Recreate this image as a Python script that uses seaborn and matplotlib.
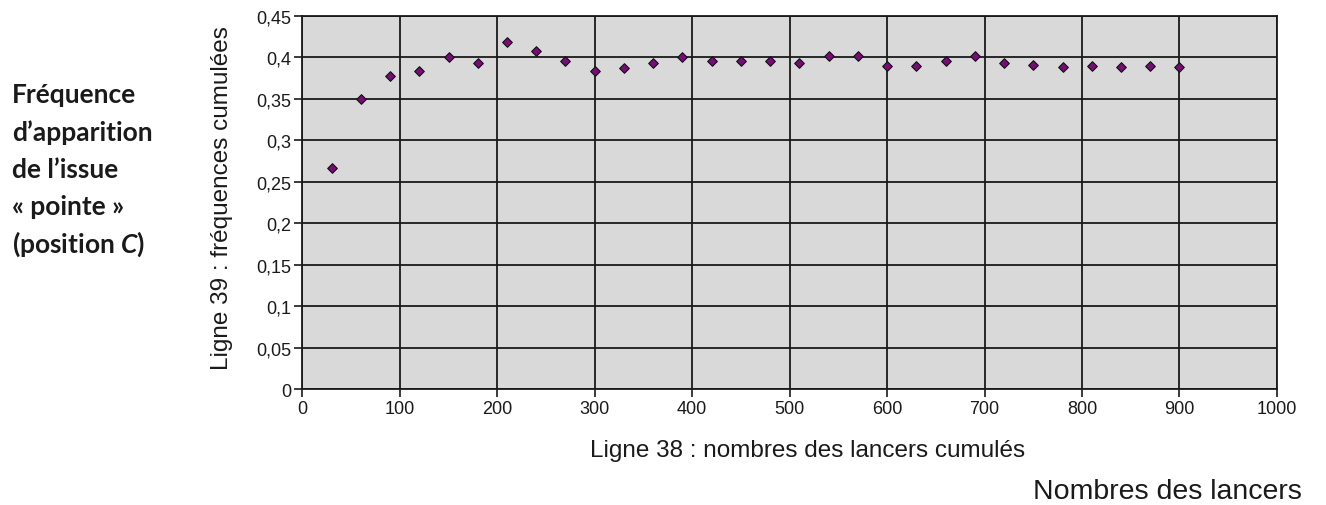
import numpy as np
import pandas as pd
import matplotlib
matplotlib.use('Agg')
import matplotlib.pyplot as plt
import seaborn as sns

# cumulated number of throws and cumulated frequency of the "pointe" outcome
lancers = [30, 60, 90, 120, 150, 180, 210, 240, 270, 300,
           330, 360, 390, 420, 450, 480, 510, 540, 570, 600,
           630, 660, 690, 720, 750, 780, 810, 840, 870, 900]
frequences = [0.267, 0.350, 0.377, 0.383, 0.400, 0.393, 0.418, 0.408, 0.396, 0.383,
              0.387, 0.393, 0.400, 0.395, 0.395, 0.395, 0.393, 0.401, 0.401, 0.389,
              0.389, 0.396, 0.401, 0.393, 0.391, 0.388, 0.389, 0.388, 0.389, 0.388]

x_ticks = list(range(0, 1001, 100))
y_ticks = [0, 0.05, 0.1, 0.15, 0.2, 0.25, 0.3, 0.35, 0.4, 0.45]
y_tick_labels = ['0', '0,05', '0,1', '0,15', '0,2', '0,25', '0,3', '0,35', '0,4', '0,45']

df = pd.DataFrame({'lancers': lancers, 'freq': frequences})

sns.set_style('ticks')
plt.rcParams['font.family'] = ['Liberation Sans', 'DejaVu Sans']
plt.rcParams['mathtext.fontset'] = 'custom'
plt.rcParams['mathtext.it'] = 'Lato:italic:bold'

fig = plt.figure(figsize=(13.26, 5.06), dpi=100)
ax = fig.add_axes([0.228, 0.229, 0.735, 0.738])
ax.set_facecolor('#d9d9d9')

sns.scatterplot(data=df, x='lancers', y='freq', ax=ax, marker='D', s=24,
                color='#7a0a7a', edgecolor='#111111', linewidth=0.8, zorder=3)

ax.set_xlim(0, 1000)
ax.set_ylim(0, 0.45)
ax.set_xticks(x_ticks)
ax.set_yticks(y_ticks)
ax.set_yticklabels(y_tick_labels)
ax.grid(True, color='#1a1a1a', linewidth=1.3)
ax.set_axisbelow(True)
for s in ax.spines.values():
    s.set_color('#1a1a1a')
    s.set_linewidth(1.3)
ax.tick_params(axis='both', direction='out', length=6, width=1.2, colors='#1a1a1a',
               labelsize=13, labelcolor='#1a1a1a', pad=2)

ax.set_xlabel('Ligne 38 : nombres des lancers cumulés', fontsize=17.5, color='#1a1a1a')
ax.xaxis.set_label_coords(0.518, -0.134)
ax.set_ylabel('Ligne 39 : fréquences cumulées', fontsize=17.5, color='#1a1a1a')
ax.yaxis.set_label_coords(-0.071, 0.515)

fig.text(0.982, 0.027, 'Nombres des lancers', fontsize=20.5, color='#1a1a1a',
         ha='right', va='center')

left_lines = ['Fréquence', 'd\u2019apparition', 'de l\u2019issue', '« pointe »', '(position $\\it{C}$)']
for i, line in enumerate(left_lines):
    fig.text(0.009, 1 - (95 + i * 37.3) / 506, line, fontsize=19, family='Lato',
             weight='bold', color='#1a1a1a', ha='left', va='center')

fig.savefig('out.png', dpi=100)
